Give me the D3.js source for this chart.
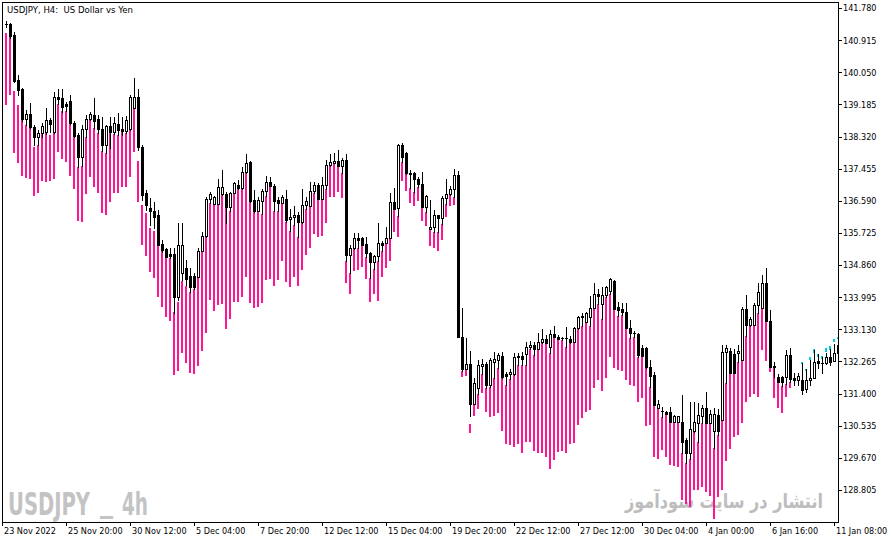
<!DOCTYPE html>
<html><head><meta charset="utf-8">
<script src="https://cdn.jsdelivr.net/npm/d3@7"></script>
<style>
html,body{margin:0;padding:0;background:#fff;}
svg{display:block;}
.ax text{font-family:"DejaVu Sans Condensed","DejaVu Sans","Liberation Sans",sans-serif;font-size:9px;fill:#000;}
</style></head>
<body>
<svg id="c" width="892" height="543"></svg>
<script>
// ---------- DATA (USDJPY H4) ----------
const opens = [141.35,141.35,141.05,139.84,139.60,138.79,138.92,138.58,138.31,138.41,138.44,138.76,138.44,139.38,139.36,139.19,139.28,138.68,138.36,137.77,138.52,138.79,138.90,138.79,138.52,138.09,138.60,138.44,138.66,138.52,138.47,138.52,139.09,139.38,138.04,136.80,136.40,136.31,136.21,135.43,135.29,135.16,135.16,134.00,134.65,134.78,134.56,134.56,134.54,135.24,135.64,136.64,136.50,136.50,136.77,136.77,136.42,136.80,137.01,136.93,137.36,137.63,136.61,136.31,136.58,136.85,137.09,136.99,136.61,136.53,136.64,136.10,136.15,136.21,136.02,136.48,136.45,136.85,137.01,136.64,137.01,137.55,137.61,137.66,137.53,137.69,135.13,135.32,135.59,135.59,135.43,135.18,134.94,135.10,135.45,135.45,135.59,136.56,136.40,138.09,137.88,137.34,137.34,137.18,137.04,136.42,135.83,135.88,136.21,136.13,136.66,136.77,136.91,137.28,132.92,132.06,132.20,131.12,131.55,132.14,132.20,131.63,132.25,132.30,132.41,131.93,131.93,131.93,132.38,132.41,132.47,132.65,132.71,132.60,132.79,132.87,132.65,133.00,132.92,132.90,132.90,132.87,132.79,133.16,133.49,133.33,133.46,133.70,134.08,133.81,134.05,134.16,134.43,133.73,133.68,133.60,133.16,133.04,133.00,132.63,132.63,132.12,131.90,131.01,130.94,130.90,130.90,130.64,130.64,130.64,130.15,129.80,130.39,130.61,130.80,131.01,130.61,130.39,130.82,130.69,132.52,132.55,132.47,132.49,132.30,133.68,133.25,133.25,133.78,133.70,134.38,133.35,132.13,131.85,131.85,131.85,132.44,131.82,131.77,131.77,131.52,131.77,131.82,132.28,132.23,132.22,132.38,132.28,132.49];
const highs = [141.43,141.37,141.13,139.97,139.62,139.03,139.22,138.63,138.49,138.68,139.09,138.82,139.52,139.60,139.60,139.25,139.44,138.74,138.41,138.63,138.90,138.98,139.36,138.90,138.84,138.63,138.84,138.84,138.95,138.84,138.87,139.44,139.89,139.60,138.09,136.88,136.66,136.56,136.34,135.53,135.32,135.32,135.32,135.99,135.99,135.00,134.78,134.65,135.32,135.75,136.69,136.83,136.72,137.18,137.42,136.83,136.83,137.09,137.15,137.50,137.85,137.66,136.88,136.69,136.91,137.26,137.23,137.04,136.69,136.75,136.88,136.37,136.45,136.29,136.91,136.69,137.09,137.09,137.07,137.23,137.69,137.85,137.88,137.96,137.74,137.85,135.40,135.72,135.72,135.61,135.61,135.21,135.13,135.99,135.51,135.88,136.80,136.93,138.12,138.14,137.90,137.42,137.37,137.23,137.36,136.75,136.61,136.34,136.21,136.72,137.18,136.99,137.45,137.39,133.70,132.90,132.55,131.82,132.30,132.33,132.25,132.36,132.52,132.49,132.52,131.98,132.06,132.49,132.49,132.52,132.79,132.82,132.79,133.03,133.14,132.98,133.11,133.22,132.98,132.92,133.19,132.95,133.19,133.49,133.57,133.60,134.03,134.38,134.21,134.27,134.30,134.51,134.46,133.87,133.84,133.84,133.38,133.08,133.03,132.71,132.65,132.30,131.98,131.23,131.04,130.93,131.04,130.82,130.80,131.36,130.20,131.17,131.17,131.15,131.09,131.44,130.96,131.01,130.98,132.71,132.71,132.63,132.60,132.71,133.73,134.05,133.46,133.84,134.38,134.59,134.78,133.65,132.25,131.93,131.87,132.57,132.63,131.95,131.95,132.22,132.06,132.30,132.57,132.47,132.38,132.49,132.60,132.73,132.92];
const lows = [141.27,140.97,139.79,139.44,138.74,138.63,138.55,138.09,138.09,138.31,138.39,138.44,138.41,139.19,138.98,139.01,138.66,138.31,137.50,137.53,138.31,138.76,138.55,138.41,137.93,137.88,138.01,138.39,138.36,138.36,138.41,138.49,139.09,137.96,136.61,136.34,135.94,135.86,135.40,135.21,135.08,135.05,133.57,133.92,134.46,134.32,134.13,134.21,134.54,135.24,135.61,136.53,136.50,136.50,136.75,135.99,136.31,136.80,136.91,136.91,137.34,136.56,136.29,136.31,136.23,136.72,136.99,136.31,136.31,136.53,136.02,135.78,135.94,135.61,135.99,136.37,136.45,136.80,136.64,136.64,136.91,137.53,137.61,137.53,137.34,134.97,134.65,135.29,135.32,135.40,135.08,134.51,134.75,134.97,135.24,135.45,135.59,136.37,136.18,137.63,137.31,136.93,136.83,136.96,136.42,136.29,135.83,135.75,135.75,135.96,136.50,136.75,136.69,132.92,132.01,132.06,130.80,131.12,131.39,131.93,131.55,131.58,131.82,132.09,131.82,131.63,131.79,131.90,132.17,132.17,132.17,132.60,132.44,132.60,132.76,132.76,132.49,132.92,132.87,132.84,132.65,132.76,132.79,133.14,133.22,133.33,133.22,133.70,133.81,133.41,134.00,134.08,133.68,133.49,133.52,133.16,132.90,132.92,132.38,132.41,132.09,131.58,131.09,131.01,130.77,130.85,130.64,130.64,130.64,129.80,129.53,129.64,130.37,130.10,130.61,130.61,130.61,129.94,130.29,130.69,131.69,131.95,131.95,132.25,132.30,132.95,133.22,133.25,133.57,133.70,133.35,132.12,131.85,131.71,131.60,131.66,131.71,131.63,131.63,131.39,131.44,131.63,131.82,132.09,131.95,132.20,132.17,132.28,132.47];
const closes = [141.34,141.02,139.81,139.57,138.79,138.92,138.58,138.31,138.41,138.60,138.76,138.66,139.38,139.33,139.11,139.14,138.68,138.33,137.77,138.52,138.79,138.92,138.74,138.52,138.09,138.60,138.44,138.68,138.49,138.47,138.76,139.38,139.38,138.04,136.75,136.48,136.31,136.15,135.40,135.26,135.08,135.10,134.00,135.40,135.40,134.48,134.27,134.27,135.24,135.64,136.64,136.77,136.69,136.96,136.96,136.42,136.80,137.07,136.93,137.36,137.61,136.58,136.31,136.61,136.85,137.09,136.99,136.58,136.53,136.69,136.07,136.15,136.21,136.02,136.48,136.58,136.85,137.01,136.64,137.01,137.55,137.63,137.66,137.53,137.69,135.13,135.32,135.59,135.53,135.40,135.18,134.94,135.10,135.45,135.40,135.59,136.56,136.37,138.09,137.77,137.34,137.31,137.18,137.04,136.42,136.72,135.88,136.21,136.13,136.66,136.77,136.91,137.28,132.92,132.06,132.20,131.12,131.69,132.17,132.20,131.63,132.30,132.33,132.44,131.85,131.87,131.98,132.38,132.41,132.33,132.65,132.71,132.60,132.79,132.87,132.76,133.00,132.92,132.87,132.89,132.89,132.79,133.16,133.46,133.46,133.57,133.70,134.08,134.03,134.05,134.27,134.48,133.68,133.65,133.60,133.16,133.03,133.03,132.44,132.41,132.12,131.87,131.09,131.12,130.93,130.85,130.64,130.80,130.80,130.10,129.80,130.45,130.64,130.82,131.01,130.61,130.85,130.85,130.39,132.52,132.63,131.95,131.95,132.55,133.68,133.25,133.41,133.78,134.13,134.38,133.35,132.12,132.12,131.71,131.71,132.44,131.79,131.77,131.87,131.50,131.77,131.82,132.25,132.22,132.22,132.38,132.25,132.49,132.71];
// indicator histogram (pink): upper and lower value per bar, null = not drawn
const bandTop = [141.10,141.02,139.54,139.17,138.79,138.63,138.55,138.04,138.09,138.41,138.44,138.36,138.44,139.19,139.01,139.01,138.68,138.33,137.50,137.53,138.31,138.79,138.55,138.41,137.93,137.88,138.44,138.39,138.36,138.44,138.41,138.49,139.09,137.66,136.48,136.26,135.86,135.78,135.37,135.24,135.08,135.05,133.60,133.87,134.43,134.29,134.13,134.21,134.54,135.24,135.61,136.53,136.50,136.50,136.75,136.42,136.31,136.80,136.91,136.91,137.34,136.56,136.29,136.31,136.23,136.72,136.99,136.31,136.31,136.53,136.02,135.78,135.94,135.61,135.99,136.37,136.45,136.80,136.64,136.64,136.91,137.53,137.61,137.53,137.34,134.97,134.65,135.29,135.32,135.40,135.08,134.51,134.75,134.97,135.24,135.45,135.59,136.37,136.18,137.63,137.31,136.93,136.83,136.96,136.42,136.29,135.83,135.75,135.75,135.96,136.50,136.75,136.69,133.11,132.01,132.06,130.58,131.12,131.39,131.93,131.55,131.58,131.82,132.09,131.82,131.63,131.79,131.90,132.17,132.17,132.17,132.60,132.44,132.71,132.76,132.76,132.49,132.92,132.90,132.84,132.65,132.76,132.79,133.14,133.22,133.33,133.22,133.70,133.81,133.41,134.00,134.08,133.68,133.49,133.52,133.30,132.90,132.92,132.38,132.41,132.09,131.58,131.09,131.01,130.77,130.85,130.64,130.64,130.64,129.80,129.53,129.64,130.37,130.10,130.61,130.61,130.61,129.94,130.29,130.69,131.69,131.95,131.95,132.25,132.33,132.95,133.22,133.25,133.57,133.70,133.35,132.12,132.09,131.71,131.60,131.66,131.71,null,null,null,null,null,null,null,null,null,null,null,null];
const bandBottom = [139.17,139.44,137.88,137.61,137.26,137.20,137.18,136.72,136.80,137.12,137.09,137.12,137.18,137.90,137.71,137.63,137.26,136.91,136.05,136.02,136.77,137.23,136.96,136.80,136.26,136.21,136.56,136.80,136.80,136.96,136.96,137.23,137.90,136.56,135.40,135.10,134.67,134.51,134.00,133.73,133.46,133.35,131.90,132.01,132.49,132.22,131.95,131.93,132.14,132.55,133.03,133.92,133.62,133.78,133.81,133.14,133.41,133.87,133.87,134.00,134.54,133.84,133.70,133.73,133.84,134.46,134.48,134.29,134.46,134.97,134.40,134.27,134.54,134.29,134.73,135.13,135.32,135.70,135.61,135.64,135.99,136.69,136.69,136.83,136.66,134.38,134.08,134.70,134.73,134.81,134.48,133.87,134.08,133.89,134.54,134.78,134.97,135.75,135.61,137.12,136.85,136.53,136.45,136.58,136.05,135.91,135.37,135.32,135.24,135.53,136.15,136.45,136.48,132.92,131.85,131.87,130.34,130.80,130.99,131.42,130.90,130.77,130.80,130.88,130.39,130.04,130.02,129.96,130.04,129.80,130.10,130.10,129.85,129.80,129.80,129.69,129.37,129.61,129.83,129.85,129.80,130.04,130.07,130.55,130.74,130.90,130.96,131.55,131.77,131.47,131.82,132.38,132.09,132.04,132.01,131.77,131.63,131.60,131.17,131.28,130.54,130.55,129.69,129.64,129.88,129.69,129.48,129.45,129.42,128.54,128.43,128.35,128.81,128.81,128.89,128.75,128.64,128.03,128.62,128.81,129.59,129.91,130.23,130.29,130.61,131.17,131.31,131.39,131.31,132.57,132.28,131.98,131.28,131.01,130.88,131.31,131.55,null,null,null,null,null,null,null,null,null,null,null,null];
// indicator histogram (cyan) on the latest bars
const signalTop = [null,null,null,null,null,null,null,null,null,null,null,null,null,null,null,null,null,null,null,null,null,null,null,null,null,null,null,null,null,null,null,null,null,null,null,null,null,null,null,null,null,null,null,null,null,null,null,null,null,null,null,null,null,null,null,null,null,null,null,null,null,null,null,null,null,null,null,null,null,null,null,null,null,null,null,null,null,null,null,null,null,null,null,null,null,null,null,null,null,null,null,null,null,null,null,null,null,null,null,null,null,null,null,null,null,null,null,null,null,null,null,null,null,null,null,null,null,null,null,null,null,null,null,null,null,null,null,null,null,null,null,null,null,null,null,null,null,null,null,null,null,null,null,null,null,null,null,null,null,null,null,null,null,null,null,null,null,null,null,null,null,null,null,null,null,null,null,null,null,null,null,null,null,null,null,null,null,null,null,null,null,null,null,null,null,null,null,null,null,null,null,null,null,null,null,null,null,null,null,132.25,132.06,132.38,132.60,132.47,132.41,132.63,132.68,132.87,132.92];
const signalBottom = [null,null,null,null,null,null,null,null,null,null,null,null,null,null,null,null,null,null,null,null,null,null,null,null,null,null,null,null,null,null,null,null,null,null,null,null,null,null,null,null,null,null,null,null,null,null,null,null,null,null,null,null,null,null,null,null,null,null,null,null,null,null,null,null,null,null,null,null,null,null,null,null,null,null,null,null,null,null,null,null,null,null,null,null,null,null,null,null,null,null,null,null,null,null,null,null,null,null,null,null,null,null,null,null,null,null,null,null,null,null,null,null,null,null,null,null,null,null,null,null,null,null,null,null,null,null,null,null,null,null,null,null,null,null,null,null,null,null,null,null,null,null,null,null,null,null,null,null,null,null,null,null,null,null,null,null,null,null,null,null,null,null,null,null,null,null,null,null,null,null,null,null,null,null,null,null,null,null,null,null,null,null,null,null,null,null,null,null,null,null,null,null,null,null,null,null,null,null,null,132.22,132.04,132.30,132.49,132.38,132.33,132.52,132.57,132.79,132.87];
const priceTicks = [141.780,140.915,140.050,139.185,138.320,137.455,136.590,135.725,134.860,133.995,133.130,132.265,131.400,130.535,129.670,128.805];
const timeLabels = ["23 Nov 2022","25 Nov 20:00","30 Nov 12:00","5 Dec 04:00","7 Dec 20:00","12 Dec 12:00","15 Dec 04:00","19 Dec 20:00","22 Dec 12:00","27 Dec 12:00","30 Dec 04:00","4 Jan 00:00","6 Jan 16:00","11 Jan 08:00"];
const timeLabelBars = [-1,15,31,47,63,79,95,111,127,143,159,175,191,207];
const titleText = "USDJPY, H4:  US Dollar vs Yen";

// ---------- DRAW ----------
const svg = d3.select("#c");
const W = 892, H = 543;
const L = 2, R = 838, T = 2, B = 522;
const n = opens.length;
const x = d3.scaleLinear().domain([0, n - 1]).range([6, 6 + 4 * (n - 1)]);
const y = d3.scaleLinear().domain([128.805, 141.780]).range([490, 8]);
const Y = v => Math.round(y(v));
const X = i => Math.round(x(i));

svg.append("rect").attr("width", W).attr("height", H).attr("fill", "#fff");

svg.append("defs").append("clipPath").attr("id", "plot")
  .append("rect").attr("x", L + 1).attr("y", T + 1).attr("width", R - L - 1).attr("height", B - T - 1);

// watermarks
const wm = svg.append("g").attr("fill", "#c3c3c3")
  .style("font-family", "'Liberation Sans Narrow','DejaVu Sans Condensed','Liberation Sans',sans-serif")
  .style("font-weight", "bold").style("font-size", "32px");
[["USDJPY", 8, 515, 82], ["_", 100, 511, 13], ["4h", 122, 515, 26]].forEach(([t, xx, yy, len]) => {
  wm.append("text").attr("x", xx).attr("y", yy).attr("textLength", len)
    .attr("lengthAdjust", "spacingAndGlyphs").text(t);
});
svg.append("text").attr("x", 625).attr("y", 508).attr("fill", "#bdbdbd")
  .attr("textLength", 198).attr("lengthAdjust", "spacingAndGlyphs")
  .style("font-family", "'DejaVu Sans',sans-serif").style("font-weight", "bold").style("font-size", "20px")
  .text("انتشار در سایت سودآموز");

const g = svg.append("g").attr("clip-path", "url(#plot)").attr("shape-rendering", "crispEdges");
const idx = d3.range(n);

// pink histogram
g.append("g").selectAll("rect").data(idx.filter(i => bandTop[i] != null)).join("rect")
  .attr("x", i => X(i) - 1).attr("width", 2)
  .attr("y", i => Y(bandTop[i]))
  .attr("height", i => Math.max(1, Y(bandBottom[i]) - Y(bandTop[i])))
  .attr("fill", "#ff1493");
// cyan histogram
g.append("g").selectAll("rect").data(idx.filter(i => signalTop[i] != null)).join("rect")
  .attr("x", i => X(i) - 1).attr("width", 2)
  .attr("y", i => Y(signalTop[i]))
  .attr("height", i => Math.max(2, Y(signalBottom[i]) - Y(signalTop[i])))
  .attr("fill", "#00cdd4");

// wicks
g.append("g").selectAll("rect").data(idx).join("rect")
  .attr("x", i => X(i)).attr("width", 1)
  .attr("y", i => Y(highs[i]))
  .attr("height", i => Y(lows[i]) - Y(highs[i]) + 1)
  .attr("fill", "#000");
// bodies
g.append("g").selectAll("rect").data(idx).join("rect")
  .attr("x", i => X(i) - 1).attr("width", 3)
  .attr("y", i => Y(Math.max(opens[i], closes[i])))
  .attr("height", i => Math.max(1, Y(Math.min(opens[i], closes[i])) - Y(Math.max(opens[i], closes[i])) + 1))
  .attr("fill", "#000");
// hollow interior of bullish bodies
g.append("g").selectAll("rect")
  .data(idx.filter(i => closes[i] > opens[i] && Y(opens[i]) - Y(closes[i]) >= 2)).join("rect")
  .attr("x", i => X(i)).attr("width", 1)
  .attr("y", i => Y(closes[i]) + 1)
  .attr("height", i => Y(opens[i]) - Y(closes[i]) - 1)
  .attr("fill", "#fff");

// frame
svg.append("rect").attr("x", L + 0.5).attr("y", T + 0.5).attr("width", R - L).attr("height", B - T - 0.5)
  .attr("fill", "none").attr("stroke", "#000").attr("shape-rendering", "crispEdges");

// right price axis
const ay = svg.append("g").attr("class", "ax").attr("transform", `translate(${R},0)`)
  .call(d3.axisRight(y).tickValues(priceTicks).tickSize(4).tickPadding(1).tickFormat(d3.format(".3f")));
ay.select(".domain").remove();
ay.selectAll("line").attr("stroke", "#000").attr("shape-rendering", "crispEdges");

// bottom time axis
const ax = svg.append("g").attr("class", "ax").attr("transform", `translate(0,${B})`)
  .call(d3.axisBottom(x).tickValues(timeLabelBars).tickSize(4).tickFormat((d, k) => timeLabels[k]));
ax.select(".domain").remove();
ax.selectAll("line").attr("stroke", "#000").attr("shape-rendering", "crispEdges");
ax.selectAll("text").attr("text-anchor", "start").attr("x", 1.5).attr("y", 5.5).attr("dy", "0.71em");

// title
svg.append("text").attr("x", 7).attr("y", 13).attr("class", "ax")
  .style("font-family", "'DejaVu Sans Condensed','DejaVu Sans',sans-serif").style("font-size", "9.5px")
  .style("white-space", "pre").attr("fill", "#000").text(titleText);
</script>
</body></html>
